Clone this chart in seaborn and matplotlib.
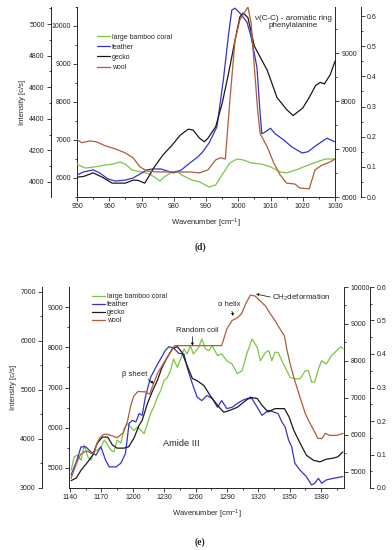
import matplotlib
matplotlib.use("Agg")
import pandas as pd
import matplotlib.pyplot as plt
from matplotlib.lines import Line2D
from matplotlib.ticker import MultipleLocator, FormatStrFormatter
import seaborn as sns

# --- Data (intensities, in units of the far right axis) ---
names = ["large bamboo coral", "feather", "gecko", "wool"]
palette = {"large bamboo coral": "#7cc544", "feather": "#3434cc",
           "gecko": "#1a1a1a", "wool": "#b05c3a"}

# panel (d): 950-1030 cm-1
d_bamboo_wn = [950, 952.5, 955.6, 958.7, 961, 963.3, 965, 967, 970, 972.6, 974.8, 975.7, 977, 979.5,
               981, 982.4, 985.7, 988, 991, 993, 995.4, 997.4, 999.6, 1001.5, 1004, 1007.3, 1010, 1013,
               1015, 1018, 1021, 1024.3, 1027, 1030]
d_bamboo = [0.109, 0.096, 0.100, 0.106, 0.109, 0.116, 0.109, 0.090, 0.083, 0.076, 0.060, 0.053, 0.066,
            0.083, 0.086, 0.073, 0.056, 0.050, 0.033, 0.040, 0.080, 0.113, 0.126, 0.123, 0.113, 0.109,
            0.100, 0.083, 0.080, 0.090, 0.103, 0.116, 0.126, 0.126]
d_feather_wn = [950, 952, 955, 957, 959.6, 961.8, 964.9, 967.4, 969.5, 971.7, 973.6, 976, 978, 980,
                982.4, 985, 987.5, 989, 991, 993.4, 995.4, 997, 998, 999, 1000.5, 1002.7, 1004, 1005.8,
                1006.7, 1007.3, 1008.3, 1010, 1011.4, 1014, 1016.6, 1019.8, 1021.6, 1024.3, 1027.5, 1030]
d_feather = [0.073, 0.083, 0.090, 0.080, 0.060, 0.053, 0.056, 0.063, 0.076, 0.090, 0.093, 0.093, 0.086,
             0.080, 0.090, 0.113, 0.133, 0.150, 0.180, 0.233, 0.390, 0.540, 0.620, 0.626, 0.610, 0.580,
             0.530, 0.430, 0.290, 0.210, 0.215, 0.228, 0.210, 0.190, 0.166, 0.146, 0.150, 0.172, 0.195,
             0.183]
d_gecko_wn = [950, 952, 955, 957.8, 960.9, 965, 967.4, 969, 971, 972, 974, 976.7, 979.5, 982, 984.5,
              986, 988, 989.5, 990.6, 993, 995, 997, 999, 1000.5, 1001.5, 1003, 1005, 1007, 1009, 1012,
              1015, 1017, 1020, 1022, 1024, 1025.5, 1026.7, 1028.5, 1030]
d_gecko = [0.066, 0.068, 0.080, 0.066, 0.046, 0.046, 0.056, 0.055, 0.046, 0.063, 0.100, 0.140, 0.172,
           0.205, 0.225, 0.222, 0.195, 0.183, 0.195, 0.233, 0.310, 0.410, 0.520, 0.597, 0.610, 0.595,
           0.500, 0.460, 0.420, 0.330, 0.290, 0.270, 0.295, 0.330, 0.370, 0.380, 0.375, 0.405, 0.450]
d_wool_wn = [950, 951.5, 954, 956, 958.7, 961.8, 965, 967.4, 969.5, 971.7, 975, 980, 985, 988, 990.6,
             993, 994.4, 996, 997.4, 999, 1000.5, 1002, 1003, 1004, 1005, 1006, 1006.8, 1009, 1011, 1013,
             1015, 1017.6, 1019, 1022, 1023.8, 1026, 1028.5, 1030]
d_wool = [0.190, 0.180, 0.186, 0.183, 0.170, 0.160, 0.146, 0.130, 0.100, 0.086, 0.083, 0.083, 0.083,
          0.080, 0.090, 0.123, 0.130, 0.126, 0.320, 0.520, 0.587, 0.613, 0.630, 0.577, 0.430, 0.290,
          0.210, 0.166, 0.113, 0.073, 0.046, 0.043, 0.030, 0.027, 0.090, 0.106, 0.116, 0.126]

# panel (e): 1140-1400 cm-1
e_bamboo_wn = [1141, 1144, 1147, 1150.5, 1153.6, 1157, 1160, 1163, 1166, 1169.5, 1172.7, 1176, 1179,
               1182, 1185, 1188.6, 1191.6, 1195, 1198, 1201, 1204.5, 1208, 1210.8, 1214, 1217, 1220,
               1223.5, 1226.7, 1230, 1233, 1236, 1239, 1242.6, 1245.7, 1249, 1252, 1255, 1258, 1263,
               1266, 1269.5, 1272.7, 1276, 1281, 1285, 1290, 1295, 1300, 1304.5, 1309, 1314, 1319, 1322,
               1327, 1330, 1333, 1336, 1339, 1342.6, 1345.7, 1350.5, 1355, 1360, 1365, 1368, 1371, 1374,
               1377.5, 1380.6, 1385, 1390, 1395, 1399, 1401]
e_bamboo = [0.053, 0.093, 0.098, 0.083, 0.128, 0.093, 0.083, 0.108, 0.113, 0.123, 0.143, 0.128, 0.113,
            0.108, 0.143, 0.134, 0.177, 0.192, 0.182, 0.172, 0.182, 0.172, 0.162, 0.192, 0.222, 0.241,
            0.271, 0.291, 0.321, 0.330, 0.350, 0.385, 0.360, 0.385, 0.415, 0.400, 0.425, 0.400, 0.420,
            0.445, 0.415, 0.410, 0.425, 0.395, 0.400, 0.380, 0.370, 0.341, 0.350, 0.400, 0.445, 0.420,
            0.380, 0.405, 0.410, 0.380, 0.405, 0.405, 0.380, 0.360, 0.330, 0.326, 0.326, 0.350, 0.350,
            0.316, 0.316, 0.355, 0.380, 0.370, 0.395, 0.410, 0.422, 0.415]
e_feather_wn = [1141, 1146, 1150.5, 1155, 1160, 1164.8, 1169.5, 1174, 1177.5, 1184, 1188.6, 1193, 1196.5,
                1199.7, 1203, 1206, 1209, 1212, 1217, 1222, 1226.7, 1231, 1234.6, 1239, 1244, 1249, 1252,
                1257, 1261.6, 1266, 1271, 1276, 1281, 1285, 1290, 1295, 1300, 1304.5, 1309, 1314, 1319,
                1323.5, 1330, 1334.6, 1339, 1342.6, 1345.7, 1349, 1352, 1355, 1360, 1366, 1371, 1374,
                1377.5, 1380.6, 1385, 1392, 1401]
e_feather = [0.039, 0.078, 0.123, 0.123, 0.108, 0.098, 0.123, 0.083, 0.063, 0.063, 0.074, 0.103, 0.193,
             0.202, 0.197, 0.222, 0.217, 0.271, 0.330, 0.360, 0.386, 0.410, 0.422, 0.418, 0.402, 0.400,
             0.360, 0.311, 0.271, 0.261, 0.276, 0.267, 0.241, 0.261, 0.237, 0.241, 0.252, 0.261, 0.267,
             0.267, 0.241, 0.217, 0.232, 0.227, 0.222, 0.197, 0.182, 0.143, 0.123, 0.074, 0.053, 0.034,
             0.009, 0.014, 0.029, 0.014, 0.024, 0.029, 0.034]
e_gecko_wn = [1141, 1146, 1150.5, 1157, 1161.6, 1166, 1171, 1176, 1180.6, 1185, 1191.6, 1196, 1201, 1206,
              1209, 1214, 1219, 1223.5, 1228, 1233, 1238, 1242.6, 1247, 1252, 1257, 1261.6, 1268, 1274,
              1281, 1287, 1293, 1300, 1306, 1312.4, 1319, 1323.5, 1329.5, 1336, 1345, 1349.5, 1354, 1360,
              1366, 1372.6, 1379, 1385, 1391.6, 1396, 1401]
e_gecko = [0.022, 0.030, 0.053, 0.078, 0.098, 0.134, 0.152, 0.152, 0.128, 0.119, 0.119, 0.123, 0.148,
           0.187, 0.202, 0.252, 0.291, 0.321, 0.360, 0.390, 0.416, 0.422, 0.405, 0.365, 0.327, 0.320,
           0.306, 0.276, 0.247, 0.226, 0.232, 0.241, 0.256, 0.271, 0.267, 0.247, 0.227, 0.237, 0.237,
           0.212, 0.172, 0.134, 0.098, 0.083, 0.078, 0.086, 0.089, 0.093, 0.108]
e_wool_wn = [1141, 1144, 1147, 1150, 1153.6, 1157, 1160, 1163, 1166, 1168, 1172, 1176, 1181, 1185, 1191,
             1195, 1198, 1201, 1205, 1212, 1216, 1219, 1223.5, 1228, 1233, 1237, 1240, 1245, 1255, 1265,
             1275, 1285, 1290, 1295, 1300, 1304, 1308, 1312.5, 1317, 1322, 1327, 1331.5, 1336, 1339, 1345,
             1347.6, 1350.5, 1355, 1360, 1365, 1369.5, 1374, 1377, 1381, 1384, 1388.5, 1395, 1401]
e_wool = [0.029, 0.055, 0.080, 0.100, 0.108, 0.110, 0.103, 0.105, 0.135, 0.148, 0.160, 0.160, 0.155,
          0.150, 0.165, 0.200, 0.245, 0.275, 0.288, 0.287, 0.280, 0.305, 0.341, 0.365, 0.390, 0.410,
          0.425, 0.425, 0.425, 0.425, 0.425, 0.425, 0.475, 0.500, 0.508, 0.520, 0.550, 0.576, 0.573,
          0.558, 0.543, 0.520, 0.500, 0.484, 0.454, 0.410, 0.370, 0.320, 0.270, 0.222, 0.193, 0.167,
          0.148, 0.148, 0.163, 0.157, 0.157, 0.163]


def to_long(series):
    frames = []
    for name, (wn, vals) in zip(names, series):
        frames.append(pd.DataFrame({"wn": wn, "v": vals, "sample": name}))
    return pd.concat(frames, ignore_index=True)


d_df = to_long([(d_bamboo_wn, d_bamboo), (d_feather_wn, d_feather),
                (d_gecko_wn, d_gecko), (d_wool_wn, d_wool)])
e_df = to_long([(e_bamboo_wn, e_bamboo), (e_feather_wn, e_feather),
                (e_gecko_wn, e_gecko), (e_wool_wn, e_wool)])

# --- Style ---
sns.set_theme(style="ticks")
plt.rcParams['font.family'] = ['Liberation Sans', 'DejaVu Sans']
plt.rcParams['mathtext.default'] = 'regular'
plt.rcParams['axes.linewidth'] = 0.7
for k in ['xtick', 'ytick']:
    plt.rcParams[k + '.major.size'] = 3
    plt.rcParams[k + '.minor.size'] = 1.6
    plt.rcParams[k + '.major.width'] = 0.6
    plt.rcParams[k + '.minor.width'] = 0.6
    plt.rcParams[k + '.major.pad'] = 1.5
    plt.rcParams[k + '.labelsize'] = 5
    plt.rcParams[k + '.color'] = '#222222'

DPI = 100
fig = plt.figure(figsize=(3.92, 5.5), dpi=DPI)


def px_to_pt(px):
    return px * 72 / DPI


def style_axis(a, side, outward, lim, major, minor, fmt="%d"):
    for s in a.spines.values():
        s.set_visible(False)
    a.spines[side].set_visible(True)
    a.spines[side].set_position(('outward', px_to_pt(outward)))
    a.set_ylim(*lim)
    a.yaxis.set_major_locator(MultipleLocator(major))
    a.yaxis.set_minor_locator(MultipleLocator(minor))
    a.yaxis.set_major_formatter(FormatStrFormatter(fmt))
    if side == 'left':
        a.yaxis.tick_left()
        a.yaxis.set_label_position('left')
    else:
        a.yaxis.tick_right()
    a.tick_params(axis='y', which='both', direction='out')


def make_panel(rect, xlim, xmaj, xmin, fl, il, ir, fr, off_l, off_r):
    ax = fig.add_axes(rect)
    ax_fl = ax.twinx()
    ax_ir = ax.twinx()
    ax_fr = ax.twinx()
    style_axis(ax, 'left', 0, *il)
    ax.spines['bottom'].set_visible(True)
    style_axis(ax_fl, 'left', off_l, *fl)
    style_axis(ax_ir, 'right', 0, *ir)
    style_axis(ax_fr, 'right', off_r, *fr, fmt="%.1f")
    ax.set_xlim(*xlim)
    ax.xaxis.set_major_locator(MultipleLocator(xmaj))
    ax.xaxis.set_minor_locator(MultipleLocator(xmin))
    ax.tick_params(axis='x', which='both', direction='out')
    ax.set_xlabel("Wavenumber [cm$^{-1}$]", fontsize=5.5, labelpad=5)
    ax_fl.set_ylabel("Intensity [c/s]", fontsize=5.5, labelpad=2)
    return ax, ax_fr


def draw_lines(axis, df):
    sns.lineplot(data=df, x="wn", y="v", hue="sample", palette=palette, hue_order=names,
                 estimator=None, sort=False, legend=False, linewidth=0.9, ax=axis)
    axis.set_xlabel("")
    axis.set_ylabel("")


def add_legend(axis, anchor, spacing):
    handles = [Line2D([], [], color=palette[n], lw=0.9) for n in names]
    axis.legend(handles, names, loc='upper left', bbox_to_anchor=anchor, frameon=False,
                fontsize=5, handlelength=1.8, handletextpad=0.3, labelspacing=spacing,
                borderpad=0, borderaxespad=0)


arrow = dict(arrowstyle='-|>', lw=0.5, color='black', mutation_scale=3.5, shrinkA=0, shrinkB=0)

# --- Panel (d) ---
ax_d, axd = make_panel([77 / 392, 1 - 197 / 550, 258 / 392, 190 / 550], (950, 1030), 10, 5,
                       ((3905, 5108), 200, 100), ((5500, 10500), 1000, 500),
                       ((6000, 9960), 1000, 500), ((0, 0.63), 0.1, 0.05), 26, 26)
draw_lines(axd, d_df)
add_legend(axd, (0.078, 0.86), 0.45)
axd.text(1017, 0.58, "ν(C-C) - aromatic ring\nphenylalanine", fontsize=5.8, ha='center',
         va='center', multialignment='center', linespacing=1.15)

# --- Panel (e) ---
ax_e, axe = make_panel([69 / 392, 1 - 488 / 550, 275 / 392, 201 / 550], (1139, 1402), 30, 15,
                       ((3000, 7102), 1000, 500), ((4503, 9497), 1000, 500),
                       ((4560, 10000), 1000, 500), ((0, 0.6), 0.1, 0.05), 27, 26)
draw_lines(axe, e_df)
add_legend(axe, (0.084, 0.968), 0.12)
axe.annotate("", xy=(1220, 0.312), xytext=(1214.6, 0.324), arrowprops=arrow)
axe.text(1202, 0.339, "β sheet", fontsize=5.5, ha='center', va='center')
axe.annotate("", xy=(1257, 0.425), xytext=(1257, 0.452), arrowprops=arrow)
axe.text(1262, 0.469, "Random coil", fontsize=5.5, ha='center', va='center')
axe.annotate("", xy=(1296, 0.514), xytext=(1294.8, 0.528), arrowprops=arrow)
axe.text(1292.4, 0.549, "α helix", fontsize=5.5, ha='center', va='center')
axe.annotate("", xy=(1318, 0.579), xytext=(1331.4, 0.570), arrowprops=arrow)
axe.text(1333.3, 0.567, "CH$_2$deformation", fontsize=5.8, ha='left', va='center')
axe.text(1246.7, 0.134, "Amide III", fontsize=6.7, ha='center', va='center')

fig.text(200 / 392, 1 - 247 / 550, "(d)", ha='center', va='center', fontsize=7,
         family='Liberation Serif', fontweight='bold')
fig.text(200 / 392, 1 - 542 / 550, "(e)", ha='center', va='center', fontsize=7,
         family='Liberation Serif', fontweight='bold')

fig.savefig("out.png", dpi=DPI)
